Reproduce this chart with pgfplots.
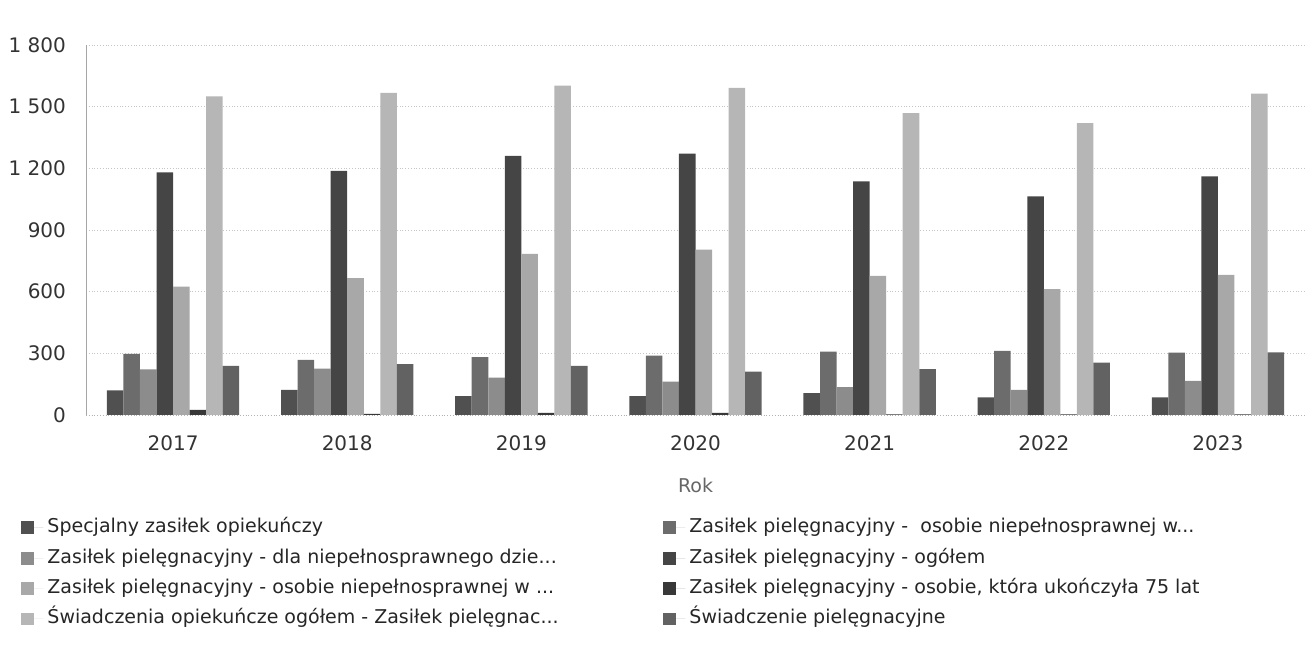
\documentclass[border=0pt]{standalone}
\usepackage{pgfplots}
\pgfplotsset{compat=1.18}
\usepackage{pgfplotstable}
\usepackage{fontspec}
\setmainfont{DejaVu Sans}

% year index, then the eight series in legend order
\pgfplotstableread{
x s1 s2 s3 s4 s5 s6 s7 s8
0 120 297 222 1180 625 25 1550 239
1 122 268 225 1188 666 5 1567 248
2 92 281 182 1261 784 10 1602 239
3 92 289 162 1271 804 10 1592 211
4 106 308 135 1136 677 3 1469 223
5 86 312 122 1063 612 3 1420 255
6 86 303 166 1161 682 3 1563 305
}\dane

\definecolor{c1}{HTML}{505050}
\definecolor{c2}{HTML}{6C6C6C}
\definecolor{c3}{HTML}{8C8C8C}
\definecolor{c4}{HTML}{454545}
\definecolor{c5}{HTML}{A8A8A8}
\definecolor{c6}{HTML}{383838}
\definecolor{c7}{HTML}{B6B6B6}
\definecolor{c8}{HTML}{626262}

\begin{document}
\begin{tikzpicture}
\begin{axis}[
  name=ax,
  scale only axis,
  width=609.5pt, height=185pt,
  font=\fontsize{9.5}{11}\selectfont,
  ybar=0pt, bar width=0.095,
  xmin=-0.5, xmax=6.5,
  ymin=0, ymax=1800,
  ytick={0,300,...,1800},
  xtick={0,...,6},
  xticklabels={2017,2018,2019,2020,2021,2022,2023},
  /pgf/number format/.cd, 1000 sep={\ }, assume math mode=true, /pgfplots/.cd,
  axis x line*=bottom, axis y line*=left,
  x axis line style={draw=gray!60, densely dotted},
  y axis line style={draw=gray!70},
  major tick length=0pt,
  ymajorgrids, grid style={gray!45, densely dotted},
  tick label style={text=black!80, font=\fontsize{10}{12}\selectfont},
  yticklabel style={xshift=-6.5pt},
  xticklabel style={yshift=-7pt},
  xlabel={Rok}, xlabel style={text=black!60, yshift=-6.5pt},
  legend columns=2,
  legend cell align=left,
  legend style={draw=none, at={(-0.0582,-0.255)}, anchor=north west,
    row sep=1.2pt, font=\fontsize{9.5}{11}\selectfont, text=black!85,
    nodes={text height=7.5pt, text depth=2.5pt}},
  legend image code/.code={\fill[#1,draw=none] (0pt,-3.2pt) rectangle (6.5pt,3.2pt);
    \path (0pt,0pt) -- (11pt,0pt);},
  every axis plot/.append style={draw=none},
]
\addplot[fill=c1] table[x=x,y=s1]{\dane};
\addlegendentry{\makebox[306pt][l]{Specjalny zasiłek opiekuńczy}}
\addplot[fill=c2] table[x=x,y=s2]{\dane};
\addlegendentry{Zasiłek pielęgnacyjny -\ \ osobie niepełnosprawnej w...}
\addplot[fill=c3] table[x=x,y=s3]{\dane};
\addlegendentry{\makebox[306pt][l]{Zasiłek pielęgnacyjny - dla niepełnosprawnego dzie...}}
\addplot[fill=c4] table[x=x,y=s4]{\dane};
\addlegendentry{Zasiłek pielęgnacyjny - ogółem}
\addplot[fill=c5] table[x=x,y=s5]{\dane};
\addlegendentry{\makebox[306pt][l]{Zasiłek pielęgnacyjny - osobie niepełnosprawnej w ...}}
\addplot[fill=c6] table[x=x,y=s6]{\dane};
\addlegendentry{Zasiłek pielęgnacyjny - osobie, która ukończyła 75 lat}
\addplot[fill=c7] table[x=x,y=s7]{\dane};
\addlegendentry{\makebox[306pt][l]{Świadczenia opiekuńcze ogółem - Zasiłek pielęgnac...}}
\addplot[fill=c8] table[x=x,y=s8]{\dane};
\addlegendentry{Świadczenie pielęgnacyjne}
\end{axis}
\useasboundingbox ([xshift=-43pt,yshift=-123.5pt]ax.south west) rectangle ([xshift=2pt,yshift=22.5pt]ax.north east);
\end{tikzpicture}
\end{document}
